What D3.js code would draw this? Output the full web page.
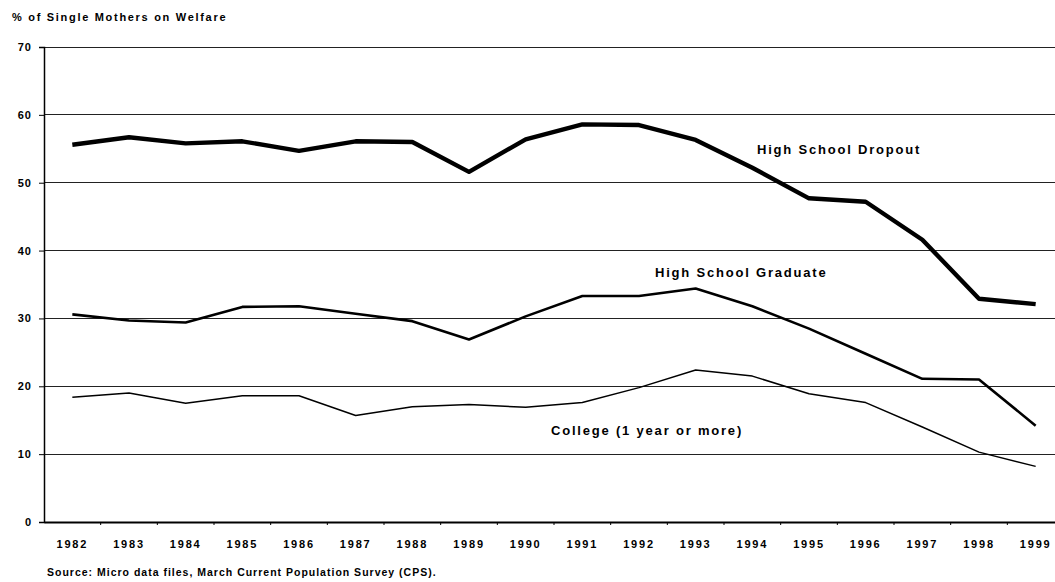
<!DOCTYPE html>
<html>
<head>
<meta charset="utf-8">
<script src="https://cdn.jsdelivr.net/npm/d3@7"></script>
<style>
  html, body { margin: 0; padding: 0; background: #fff; }
  svg { display: block; font-family: "Liberation Sans", Arial, sans-serif; }
</style>
</head>
<body>
<svg id="chart" width="1055" height="582"></svg>
<script>
const years = ["1982","1983","1984","1985","1986","1987","1988","1989","1990","1991","1992","1993","1994","1995","1996","1997","1998","1999"];
const dropout  = [55.6, 56.7, 55.8, 56.1, 54.7, 56.1, 56.0, 51.6, 56.4, 58.6, 58.5, 56.3, 52.2, 47.7, 47.2, 41.6, 32.9, 32.1];
const graduate = [30.6, 29.7, 29.4, 31.7, 31.8, 30.7, 29.6, 26.9, 30.3, 33.3, 33.3, 34.4, 31.8, 28.5, 24.8, 21.1, 21.0, 14.2];
const college  = [18.4, 19.0, 17.5, 18.6, 18.6, 15.7, 17.0, 17.3, 16.9, 17.6, 19.8, 22.4, 21.5, 18.9, 17.6, 14.0, 10.3, 8.2];
const yTicks = [0, 10, 20, 30, 40, 50, 60, 70];
const seriesLabels = ["High School Dropout", "High School Graduate", "College (1 year or more)"];
const title = "% of Single Mothers on Welfare";
const source = "Source: Micro data files, March Current Population Survey (CPS).";

(function () {
const svg = d3.select("#chart");
const mLeft = 44, mRight = 1064, mTop = 47, mBottom = 522;

const x = d3.scaleBand().domain(years).range([mLeft, mRight]).paddingInner(0).paddingOuter(0);
const y = d3.scaleLinear().domain([0, 70]).range([mBottom, mTop]);
const cx = d => x(d) + x.bandwidth() / 2;

// gridlines
svg.append("g").selectAll("line").data(yTicks.filter(t => t > 0)).join("line")
  .attr("x1", mLeft).attr("x2", 1055)
  .attr("y1", d => y(d)).attr("y2", d => y(d))
  .attr("stroke", "#222").attr("stroke-width", 1).attr("shape-rendering", "crispEdges");

// y axis
const yAxis = svg.append("g").attr("transform", `translate(${mLeft},0)`)
  .call(d3.axisLeft(y).tickValues(yTicks).tickSize(5).tickPadding(7));
yAxis.select(".domain").attr("stroke", "#000").attr("stroke-width", 1.5);
yAxis.selectAll(".tick line").attr("stroke", "#000");
yAxis.selectAll("text").attr("font-size", 11).attr("font-weight", "bold").attr("fill", "#000")
  .style("letter-spacing", "1px");

// x axis
const xAxis = svg.append("g").attr("transform", `translate(0,${mBottom})`)
  .call(d3.axisBottom(x).tickSize(0).tickPadding(18));
xAxis.select(".domain").attr("stroke", "#000").attr("stroke-width", 2);
xAxis.selectAll("text").attr("font-size", 11).attr("font-weight", "bold").attr("fill", "#000")
  .style("letter-spacing", "1.8px");
// small ticks at category boundaries
svg.append("g").selectAll("line").data(years.slice(1)).join("line")
  .attr("x1", d => x(d)).attr("x2", d => x(d))
  .attr("y1", mBottom).attr("y2", mBottom + 3)
  .attr("stroke", "#000").attr("stroke-width", 1);

// lines
const series = [
  { values: dropout, width: 4.4 },
  { values: graduate, width: 2.6 },
  { values: college, width: 1.5 }
];
const line = d3.line().x((d, i) => cx(years[i])).y(d => y(d));
svg.append("g").selectAll("path").data(series).join("path")
  .attr("d", s => line(s.values))
  .attr("fill", "none").attr("stroke", "#000")
  .attr("stroke-width", s => s.width).attr("stroke-linejoin", "round");

// series labels
const labelPos = [
  { x: 757, y: 154 },
  { x: 655, y: 277 },
  { x: 551, y: 435 }
];
svg.append("g").selectAll("text").data(seriesLabels).join("text")
  .attr("x", (d, i) => labelPos[i].x).attr("y", (d, i) => labelPos[i].y)
  .attr("font-size", 13).attr("font-weight", "bold").attr("fill", "#000")
  .style("letter-spacing", "1.8px")
  .text(d => d);

// title
svg.append("text").attr("x", 12).attr("y", 21)
  .attr("font-size", 11).attr("font-weight", "bold").style("letter-spacing", "1.7px")
  .text(title);

// source
svg.append("text").attr("x", 47).attr("y", 576)
  .attr("font-size", 10.5).attr("font-weight", "bold").style("letter-spacing", "1px")
  .text(source);
})();
</script>
</body>
</html>
